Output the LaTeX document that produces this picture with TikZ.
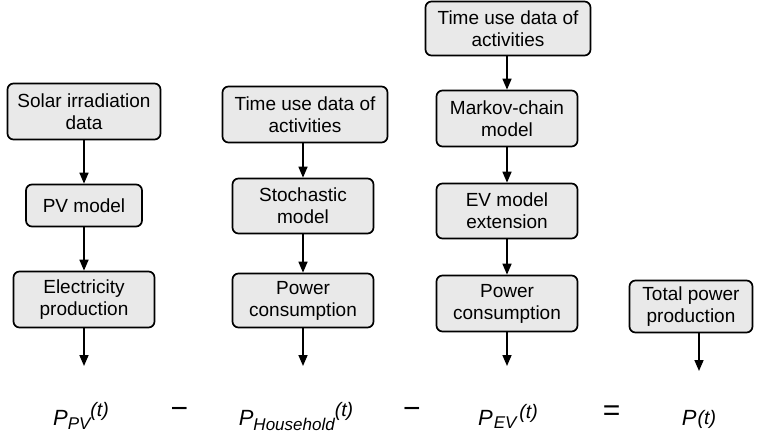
\documentclass[tikz,border=0pt]{standalone}
\usepackage{fontspec}
\setmainfont{Liberation Sans}
\usetikzlibrary{arrows.meta}
\definecolor{boxfill}{RGB}{233,233,233}
\begin{document}
\begin{tikzpicture}[x=1pt,y=-1pt,
  box/.style={draw=black, line width=1.7pt, rounded corners=6pt, fill=boxfill,
    align=center, font=\fontsize{19}{22}\selectfont, inner sep=0pt},
  flow/.style={line width=1.6pt, -{Triangle[length=11pt,width=9pt]}},
  term/.style={font=\fontsize{22}{26}\selectfont\itshape, inner sep=0pt, anchor=base},
  op/.style={font=\fontsize{30}{30}\selectfont, inner sep=0pt}
]
\useasboundingbox (0,0) rectangle (759,438);
\newcommand{\lowpart}[1]{{\fontsize{17}{17}\selectfont #1}}
\newcommand{\highpart}[1]{{\fontsize{19.5}{19.5}\selectfont #1}}

% PV column
\node[box, minimum width=153pt, minimum height=56pt] (solar) at (84,111.5) {Solar irradiation\\data};
\node[box, minimum width=116pt, minimum height=42pt] (pv) at (84,205.5) {PV model};
\node[box, minimum width=141pt, minimum height=56pt] (elec) at (84,299.5) {Electricity\\production};

% Household column
\node[box, minimum width=165pt, minimum height=56pt] (tu1) at (305,114.5) {Time use data of\\activities};
\node[box, minimum width=141pt, minimum height=55pt] (stoch) at (303,206) {Stochastic\\model};
\node[box, minimum width=141pt, minimum height=54pt] (pc1) at (303,300.5) {Power\\consumption};

% EV column
\node[box, minimum width=165pt, minimum height=54pt] (tu2) at (508,28.5) {Time use data of\\activities};
\node[box, minimum width=141pt, minimum height=56pt] (markov) at (507,118.5) {Markov-chain\\model};
\node[box, minimum width=141pt, minimum height=55pt] (evm) at (507,211) {EV model\\extension};
\node[box, minimum width=141pt, minimum height=56pt] (pc2) at (507,303.5) {Power\\consumption};

% Total
\node[box, minimum width=123pt, minimum height=52pt] (total) at (691,306.5) {Total power\\production};

% arrow ends above the terms
\coordinate (a1) at (84,366);
\coordinate (a2) at (303,366);
\coordinate (a3) at (507,366);
\coordinate (a4) at (699,371);

\draw[flow] (solar) -- (pv);
\draw[flow] (pv) -- (elec);
\draw[flow] (elec) -- (a1);
\draw[flow] (tu1.south -| stoch.north) -- (stoch.north);
\draw[flow] (stoch) -- (pc1);
\draw[flow] (pc1) -- (a2);
\draw[flow] (tu2.south -| markov.north) -- (markov.north);
\draw[flow] (markov) -- (evm);
\draw[flow] (evm) -- (pc2);
\draw[flow] (pc2) -- (a3);
\draw[flow] (total.south -| a4) -- (a4);

% balance equation
\node[term] (ppv) at (81,425) {P\raisebox{-4.5pt}{\lowpart{PV}}\raisebox{9pt}{\highpart{(t)}}};
\node[op] (m1) at (179.5,413) {−};
\node[term] (phh) at (296,425) {P\raisebox{-5pt}{\lowpart{Household}}\raisebox{9pt}{\highpart{(t)}}};
\node[op] (m2) at (412,413) {−};
\node[term] (pev) at (508,425) {P\kern1pt\raisebox{-3.5pt}{\lowpart{EV}}\kern3pt\raisebox{6.5pt}{\highpart{(t)}}};
\node[op] (eq) at (611.5,413) {=};
\node[term] (ptot) at (699,425) {P\kern1pt\raisebox{1pt}{\highpart{(t)}}};
\end{tikzpicture}
\end{document}
